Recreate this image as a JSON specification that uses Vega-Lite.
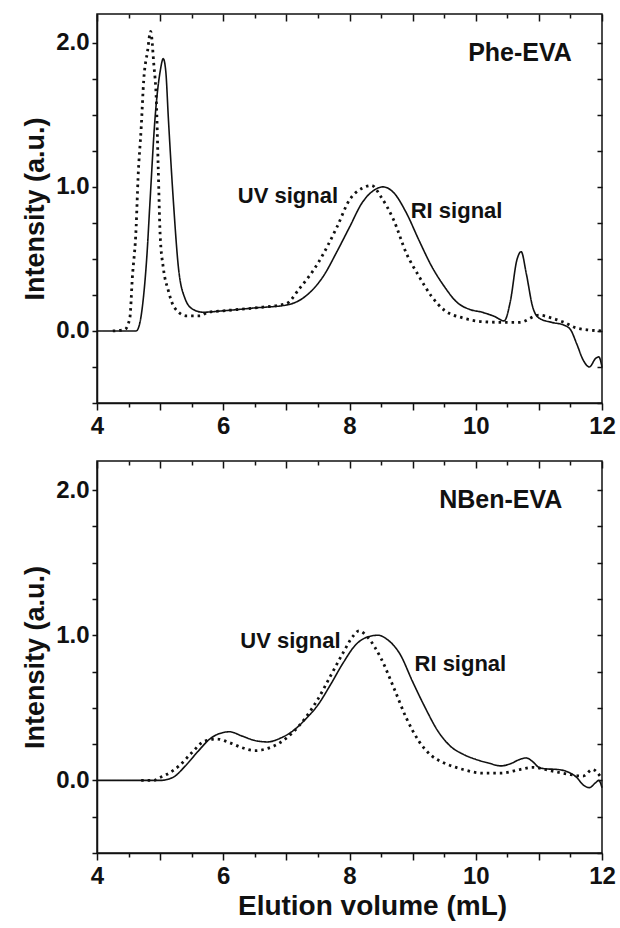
{
  "$schema": "https://vega.github.io/schema/vega-lite/v6.json",
  "padding": {"left": 20, "top": 12, "right": 12, "bottom": 4},
  "background": "white",
  "config": {
    "font": "Liberation Sans",
    "view": {"stroke": "#111", "strokeWidth": 1.5},
    "axis": {
      "grid": false,
      "domainColor": "#111",
      "domainWidth": 1.5,
      "tickColor": "#111",
      "tickWidth": 1.5,
      "labelFont": "Liberation Sans",
      "labelFontWeight": "bold",
      "labelFontSize": 24,
      "labelColor": "#111",
      "titleFont": "Liberation Sans",
      "titleFontWeight": "bold",
      "titleFontSize": 27,
      "titleColor": "#111"
    },
    "text": {"font": "Liberation Sans", "fontWeight": "bold", "color": "#111"}
  },
  "datasets": {
    "phe": [
      {"volume": 4.0, "intensity": 0, "signal": "RI signal"},
      {"volume": 4.3, "intensity": 0, "signal": "RI signal"},
      {"volume": 4.62, "intensity": 0, "signal": "RI signal"},
      {"volume": 4.67, "intensity": 0.04, "signal": "RI signal"},
      {"volume": 4.73, "intensity": 0.21, "signal": "RI signal"},
      {"volume": 4.79, "intensity": 0.52, "signal": "RI signal"},
      {"volume": 4.84, "intensity": 0.9, "signal": "RI signal"},
      {"volume": 4.92, "intensity": 1.48, "signal": "RI signal"},
      {"volume": 5.0, "intensity": 1.8, "signal": "RI signal"},
      {"volume": 5.05, "intensity": 1.89, "signal": "RI signal"},
      {"volume": 5.09, "intensity": 1.8, "signal": "RI signal"},
      {"volume": 5.13, "intensity": 1.48, "signal": "RI signal"},
      {"volume": 5.21, "intensity": 0.9, "signal": "RI signal"},
      {"volume": 5.29, "intensity": 0.44, "signal": "RI signal"},
      {"volume": 5.39, "intensity": 0.23, "signal": "RI signal"},
      {"volume": 5.52, "intensity": 0.15, "signal": "RI signal"},
      {"volume": 5.68, "intensity": 0.13, "signal": "RI signal"},
      {"volume": 6.0, "intensity": 0.14, "signal": "RI signal"},
      {"volume": 6.5, "intensity": 0.16, "signal": "RI signal"},
      {"volume": 7.0, "intensity": 0.18, "signal": "RI signal"},
      {"volume": 7.3, "intensity": 0.24, "signal": "RI signal"},
      {"volume": 7.6, "intensity": 0.39, "signal": "RI signal"},
      {"volume": 7.8, "intensity": 0.55, "signal": "RI signal"},
      {"volume": 8.0, "intensity": 0.72, "signal": "RI signal"},
      {"volume": 8.2, "intensity": 0.89, "signal": "RI signal"},
      {"volume": 8.4, "intensity": 0.98, "signal": "RI signal"},
      {"volume": 8.53, "intensity": 1.0, "signal": "RI signal"},
      {"volume": 8.7, "intensity": 0.96, "signal": "RI signal"},
      {"volume": 8.9, "intensity": 0.82, "signal": "RI signal"},
      {"volume": 9.1, "intensity": 0.63, "signal": "RI signal"},
      {"volume": 9.3, "intensity": 0.45, "signal": "RI signal"},
      {"volume": 9.5, "intensity": 0.31, "signal": "RI signal"},
      {"volume": 9.7, "intensity": 0.2, "signal": "RI signal"},
      {"volume": 9.9, "intensity": 0.15, "signal": "RI signal"},
      {"volume": 10.1, "intensity": 0.13, "signal": "RI signal"},
      {"volume": 10.3, "intensity": 0.1, "signal": "RI signal"},
      {"volume": 10.45, "intensity": 0.07, "signal": "RI signal"},
      {"volume": 10.55, "intensity": 0.21, "signal": "RI signal"},
      {"volume": 10.65, "intensity": 0.49, "signal": "RI signal"},
      {"volume": 10.72, "intensity": 0.55, "signal": "RI signal"},
      {"volume": 10.8, "intensity": 0.4, "signal": "RI signal"},
      {"volume": 10.9, "intensity": 0.17, "signal": "RI signal"},
      {"volume": 11.0, "intensity": 0.09, "signal": "RI signal"},
      {"volume": 11.2, "intensity": 0.06, "signal": "RI signal"},
      {"volume": 11.4, "intensity": 0.04, "signal": "RI signal"},
      {"volume": 11.5, "intensity": 0.01, "signal": "RI signal"},
      {"volume": 11.6, "intensity": -0.09, "signal": "RI signal"},
      {"volume": 11.7, "intensity": -0.2, "signal": "RI signal"},
      {"volume": 11.8, "intensity": -0.25, "signal": "RI signal"},
      {"volume": 11.9, "intensity": -0.19, "signal": "RI signal"},
      {"volume": 11.95, "intensity": -0.18, "signal": "RI signal"},
      {"volume": 12.0, "intensity": -0.25, "signal": "RI signal"},
      {"volume": 4.25, "intensity": 0, "signal": "UV signal"},
      {"volume": 4.44, "intensity": 0.01, "signal": "UV signal"},
      {"volume": 4.52, "intensity": 0.09, "signal": "UV signal"},
      {"volume": 4.56, "intensity": 0.37, "signal": "UV signal"},
      {"volume": 4.62, "intensity": 0.72, "signal": "UV signal"},
      {"volume": 4.65, "intensity": 1.06, "signal": "UV signal"},
      {"volume": 4.7, "intensity": 1.41, "signal": "UV signal"},
      {"volume": 4.74, "intensity": 1.74, "signal": "UV signal"},
      {"volume": 4.8, "intensity": 1.94, "signal": "UV signal"},
      {"volume": 4.85, "intensity": 2.08, "signal": "UV signal"},
      {"volume": 4.9, "intensity": 1.85, "signal": "UV signal"},
      {"volume": 4.94, "intensity": 1.6, "signal": "UV signal"},
      {"volume": 4.97, "intensity": 1.13, "signal": "UV signal"},
      {"volume": 5.0, "intensity": 0.67, "signal": "UV signal"},
      {"volume": 5.05, "intensity": 0.44, "signal": "UV signal"},
      {"volume": 5.13, "intensity": 0.28, "signal": "UV signal"},
      {"volume": 5.23, "intensity": 0.16, "signal": "UV signal"},
      {"volume": 5.42, "intensity": 0.105, "signal": "UV signal"},
      {"volume": 5.63, "intensity": 0.105, "signal": "UV signal"},
      {"volume": 5.76, "intensity": 0.13, "signal": "UV signal"},
      {"volume": 6.0, "intensity": 0.14, "signal": "UV signal"},
      {"volume": 6.5, "intensity": 0.16, "signal": "UV signal"},
      {"volume": 7.0, "intensity": 0.19, "signal": "UV signal"},
      {"volume": 7.2, "intensity": 0.29, "signal": "UV signal"},
      {"volume": 7.5, "intensity": 0.47, "signal": "UV signal"},
      {"volume": 7.8, "intensity": 0.72, "signal": "UV signal"},
      {"volume": 8.0, "intensity": 0.91, "signal": "UV signal"},
      {"volume": 8.2, "intensity": 0.99, "signal": "UV signal"},
      {"volume": 8.35, "intensity": 1.01, "signal": "UV signal"},
      {"volume": 8.5, "intensity": 0.93, "signal": "UV signal"},
      {"volume": 8.7, "intensity": 0.77, "signal": "UV signal"},
      {"volume": 8.9, "intensity": 0.54, "signal": "UV signal"},
      {"volume": 9.1, "intensity": 0.38, "signal": "UV signal"},
      {"volume": 9.3, "intensity": 0.24, "signal": "UV signal"},
      {"volume": 9.5, "intensity": 0.145, "signal": "UV signal"},
      {"volume": 9.8, "intensity": 0.09, "signal": "UV signal"},
      {"volume": 10.1, "intensity": 0.065, "signal": "UV signal"},
      {"volume": 10.4, "intensity": 0.06, "signal": "UV signal"},
      {"volume": 10.7, "intensity": 0.06, "signal": "UV signal"},
      {"volume": 11.0, "intensity": 0.11, "signal": "UV signal"},
      {"volume": 11.2, "intensity": 0.09, "signal": "UV signal"},
      {"volume": 11.4, "intensity": 0.06, "signal": "UV signal"},
      {"volume": 11.6, "intensity": 0.02, "signal": "UV signal"},
      {"volume": 12.0, "intensity": 0.0, "signal": "UV signal"}
    ],
    "nben": [
      {"volume": 4.0, "intensity": 0, "signal": "RI signal"},
      {"volume": 4.6, "intensity": 0, "signal": "RI signal"},
      {"volume": 5.0, "intensity": 0, "signal": "RI signal"},
      {"volume": 5.2, "intensity": 0.02, "signal": "RI signal"},
      {"volume": 5.4, "intensity": 0.1, "signal": "RI signal"},
      {"volume": 5.6, "intensity": 0.2, "signal": "RI signal"},
      {"volume": 5.8, "intensity": 0.29, "signal": "RI signal"},
      {"volume": 6.0, "intensity": 0.33, "signal": "RI signal"},
      {"volume": 6.1, "intensity": 0.335, "signal": "RI signal"},
      {"volume": 6.3, "intensity": 0.305, "signal": "RI signal"},
      {"volume": 6.5, "intensity": 0.275, "signal": "RI signal"},
      {"volume": 6.7, "intensity": 0.265, "signal": "RI signal"},
      {"volume": 6.9, "intensity": 0.29, "signal": "RI signal"},
      {"volume": 7.1, "intensity": 0.34, "signal": "RI signal"},
      {"volume": 7.3, "intensity": 0.42, "signal": "RI signal"},
      {"volume": 7.5, "intensity": 0.52, "signal": "RI signal"},
      {"volume": 7.7, "intensity": 0.66, "signal": "RI signal"},
      {"volume": 7.9, "intensity": 0.81, "signal": "RI signal"},
      {"volume": 8.1, "intensity": 0.935, "signal": "RI signal"},
      {"volume": 8.3, "intensity": 0.99, "signal": "RI signal"},
      {"volume": 8.45, "intensity": 1.0, "signal": "RI signal"},
      {"volume": 8.6, "intensity": 0.97, "signal": "RI signal"},
      {"volume": 8.8, "intensity": 0.87, "signal": "RI signal"},
      {"volume": 9.0, "intensity": 0.68, "signal": "RI signal"},
      {"volume": 9.2, "intensity": 0.5, "signal": "RI signal"},
      {"volume": 9.4, "intensity": 0.34, "signal": "RI signal"},
      {"volume": 9.6, "intensity": 0.235, "signal": "RI signal"},
      {"volume": 9.8, "intensity": 0.18, "signal": "RI signal"},
      {"volume": 10.0, "intensity": 0.145, "signal": "RI signal"},
      {"volume": 10.2, "intensity": 0.12, "signal": "RI signal"},
      {"volume": 10.4, "intensity": 0.1, "signal": "RI signal"},
      {"volume": 10.55, "intensity": 0.115, "signal": "RI signal"},
      {"volume": 10.7, "intensity": 0.145, "signal": "RI signal"},
      {"volume": 10.8, "intensity": 0.155, "signal": "RI signal"},
      {"volume": 10.9, "intensity": 0.13, "signal": "RI signal"},
      {"volume": 11.0, "intensity": 0.09, "signal": "RI signal"},
      {"volume": 11.1, "intensity": 0.08, "signal": "RI signal"},
      {"volume": 11.3, "intensity": 0.075, "signal": "RI signal"},
      {"volume": 11.45, "intensity": 0.06, "signal": "RI signal"},
      {"volume": 11.6, "intensity": 0.02, "signal": "RI signal"},
      {"volume": 11.7, "intensity": -0.03, "signal": "RI signal"},
      {"volume": 11.8, "intensity": -0.05, "signal": "RI signal"},
      {"volume": 11.9, "intensity": -0.015, "signal": "RI signal"},
      {"volume": 11.95, "intensity": 0.0, "signal": "RI signal"},
      {"volume": 12.0, "intensity": -0.05, "signal": "RI signal"},
      {"volume": 4.7, "intensity": 0, "signal": "UV signal"},
      {"volume": 4.9, "intensity": 0, "signal": "UV signal"},
      {"volume": 5.0, "intensity": 0.02, "signal": "UV signal"},
      {"volume": 5.1, "intensity": 0.04, "signal": "UV signal"},
      {"volume": 5.3, "intensity": 0.1, "signal": "UV signal"},
      {"volume": 5.5, "intensity": 0.19, "signal": "UV signal"},
      {"volume": 5.7, "intensity": 0.27, "signal": "UV signal"},
      {"volume": 5.9, "intensity": 0.285, "signal": "UV signal"},
      {"volume": 6.1, "intensity": 0.26, "signal": "UV signal"},
      {"volume": 6.3, "intensity": 0.225, "signal": "UV signal"},
      {"volume": 6.5, "intensity": 0.205, "signal": "UV signal"},
      {"volume": 6.7, "intensity": 0.22, "signal": "UV signal"},
      {"volume": 6.9, "intensity": 0.26, "signal": "UV signal"},
      {"volume": 7.1, "intensity": 0.33, "signal": "UV signal"},
      {"volume": 7.3, "intensity": 0.43, "signal": "UV signal"},
      {"volume": 7.5, "intensity": 0.56, "signal": "UV signal"},
      {"volume": 7.7, "intensity": 0.72, "signal": "UV signal"},
      {"volume": 7.9, "intensity": 0.88, "signal": "UV signal"},
      {"volume": 8.05, "intensity": 0.99, "signal": "UV signal"},
      {"volume": 8.15, "intensity": 1.03, "signal": "UV signal"},
      {"volume": 8.3, "intensity": 0.98, "signal": "UV signal"},
      {"volume": 8.5, "intensity": 0.84, "signal": "UV signal"},
      {"volume": 8.7, "intensity": 0.64, "signal": "UV signal"},
      {"volume": 8.9, "intensity": 0.43, "signal": "UV signal"},
      {"volume": 9.1, "intensity": 0.27, "signal": "UV signal"},
      {"volume": 9.3, "intensity": 0.17, "signal": "UV signal"},
      {"volume": 9.5, "intensity": 0.12, "signal": "UV signal"},
      {"volume": 9.8, "intensity": 0.075, "signal": "UV signal"},
      {"volume": 10.1, "intensity": 0.05, "signal": "UV signal"},
      {"volume": 10.4, "intensity": 0.05, "signal": "UV signal"},
      {"volume": 10.7, "intensity": 0.075, "signal": "UV signal"},
      {"volume": 10.9, "intensity": 0.09, "signal": "UV signal"},
      {"volume": 11.2, "intensity": 0.065, "signal": "UV signal"},
      {"volume": 11.5, "intensity": 0.04, "signal": "UV signal"},
      {"volume": 11.7, "intensity": 0.03, "signal": "UV signal"},
      {"volume": 11.85, "intensity": 0.075, "signal": "UV signal"},
      {"volume": 12.0, "intensity": 0.01, "signal": "UV signal"}
    ],
    "notes": [
      {"panel": "Phe-EVA", "kind": "signal", "label": "UV signal", "volume": 6.23, "intensity": 0.94},
      {"panel": "Phe-EVA", "kind": "signal", "label": "RI signal", "volume": 8.97, "intensity": 0.83},
      {"panel": "Phe-EVA", "kind": "sample", "label": "Phe-EVA", "volume": 9.88, "intensity": 1.93},
      {"panel": "NBen-EVA", "kind": "signal", "label": "UV signal", "volume": 6.27, "intensity": 0.96},
      {"panel": "NBen-EVA", "kind": "signal", "label": "RI signal", "volume": 9.03, "intensity": 0.8},
      {"panel": "NBen-EVA", "kind": "sample", "label": "NBen-EVA", "volume": 9.42, "intensity": 1.93}
    ]
  },
  "spacing": 20,
  "vconcat": [
    {
      "width": 505,
      "height": 389,
      "layer": [
        {
          "data": {"name": "phe"},
          "mark": {"type": "line", "color": "#111", "interpolate": "monotone", "strokeCap": "butt"},
          "encoding": {
            "x": {
              "field": "volume", "type": "quantitative",
              "scale": {"domain": [4, 12], "nice": false, "zero": false},
              "axis": {
                "orient": "bottom", "title": null,
                "values": [4, 4.5, 5, 5.5, 6, 6.5, 7, 7.5, 8, 8.5, 9, 9.5, 10, 10.5, 11, 11.5, 12],
                "labelExpr": "datum.value % 2 === 0 ? format(datum.value, 'd') : ''",
                "tickSize": {"condition": {"test": "datum.value % 1 === 0", "value": 7}, "value": 4},
                "labelPadding": 4, "labelFlush": false, "labelOverlap": false
              }
            },
            "y": {
              "field": "intensity", "type": "quantitative",
              "scale": {"domain": [-0.5, 2.2], "nice": false, "zero": false},
              "axis": {
                "orient": "left", "title": "Intensity (a.u.)",
                "values": [-0.5, -0.25, 0, 0.25, 0.5, 0.75, 1, 1.25, 1.5, 1.75, 2],
                "labelExpr": "datum.value % 1 === 0 ? format(datum.value, '.1f') : ''",
                "tickSize": 5, "labelPadding": 3, "titlePadding": 6, "labelOverlap": false
              }
            },
            "strokeDash": {
              "field": "signal", "type": "nominal",
              "scale": {"domain": ["RI signal", "UV signal"], "range": [[1, 0], [2.5, 4]]},
              "legend": null
            },
            "strokeWidth": {
              "field": "signal", "type": "nominal",
              "scale": {"domain": ["RI signal", "UV signal"], "range": [1.6, 2.8]},
              "legend": null
            }
          }
        },
        {
          "data": {"name": "phe"},
          "mark": {"type": "point", "opacity": 0},
          "encoding": {
            "x": {
              "field": "volume", "type": "quantitative",
              "axis": {
                "orient": "top", "title": null, "labels": false, "domain": false,
                "values": [4, 4.5, 5, 5.5, 6, 6.5, 7, 7.5, 8, 8.5, 9, 9.5, 10, 10.5, 11, 11.5, 12],
                "tickSize": {"condition": {"test": "datum.value % 1 === 0", "value": -7}, "value": -4}
              }
            },
            "y": {
              "field": "intensity", "type": "quantitative",
              "axis": {
                "orient": "right", "title": null, "labels": false, "domain": false,
                "values": [-0.5, -0.25, 0, 0.25, 0.5, 0.75, 1, 1.25, 1.5, 1.75, 2],
                "tickSize": -5
              }
            }
          }
        },
        {
          "data": {"name": "notes"},
          "transform": [{"filter": "datum.panel === 'Phe-EVA' && datum.kind === 'signal'"}],
          "mark": {"type": "text", "align": "left", "baseline": "middle", "fontSize": 22},
          "encoding": {
            "x": {"field": "volume", "type": "quantitative", "axis": null},
            "y": {"field": "intensity", "type": "quantitative", "axis": null},
            "text": {"field": "label"}
          }
        },
        {
          "data": {"name": "notes"},
          "transform": [{"filter": "datum.panel === 'Phe-EVA' && datum.kind === 'sample'"}],
          "mark": {"type": "text", "align": "left", "baseline": "middle", "fontSize": 25},
          "encoding": {
            "x": {"field": "volume", "type": "quantitative", "axis": null},
            "y": {"field": "intensity", "type": "quantitative", "axis": null},
            "text": {"field": "label"}
          }
        }
      ],
      "resolve": {"axis": {"x": "independent", "y": "independent"}}
    },
    {
      "width": 505,
      "height": 392,
      "layer": [
        {
          "data": {"name": "nben"},
          "mark": {"type": "line", "color": "#111", "interpolate": "monotone", "strokeCap": "butt"},
          "encoding": {
            "x": {
              "field": "volume", "type": "quantitative",
              "scale": {"domain": [4, 12], "nice": false, "zero": false},
              "axis": {
                "orient": "bottom", "title": "Elution volume (mL)",
                "values": [4, 4.5, 5, 5.5, 6, 6.5, 7, 7.5, 8, 8.5, 9, 9.5, 10, 10.5, 11, 11.5, 12],
                "labelExpr": "datum.value % 2 === 0 ? format(datum.value, 'd') : ''",
                "tickSize": {"condition": {"test": "datum.value % 1 === 0", "value": 7}, "value": 4},
                "labelPadding": 4, "titlePadding": 4, "titleFontSize": 28,
                "titleX": 275, "titleAlign": "center",
                "labelFlush": false, "labelOverlap": false
              }
            },
            "y": {
              "field": "intensity", "type": "quantitative",
              "scale": {"domain": [-0.5, 2.2], "nice": false, "zero": false},
              "axis": {
                "orient": "left", "title": "Intensity (a.u.)",
                "values": [-0.5, -0.25, 0, 0.25, 0.5, 0.75, 1, 1.25, 1.5, 1.75, 2],
                "labelExpr": "datum.value % 1 === 0 ? format(datum.value, '.1f') : ''",
                "tickSize": 5, "labelPadding": 3, "titlePadding": 6, "labelOverlap": false
              }
            },
            "strokeDash": {
              "field": "signal", "type": "nominal",
              "scale": {"domain": ["RI signal", "UV signal"], "range": [[1, 0], [2.5, 4]]},
              "legend": null
            },
            "strokeWidth": {
              "field": "signal", "type": "nominal",
              "scale": {"domain": ["RI signal", "UV signal"], "range": [1.6, 2.8]},
              "legend": null
            }
          }
        },
        {
          "data": {"name": "nben"},
          "mark": {"type": "point", "opacity": 0},
          "encoding": {
            "x": {
              "field": "volume", "type": "quantitative",
              "axis": {
                "orient": "top", "title": null, "labels": false, "domain": false,
                "values": [4, 4.5, 5, 5.5, 6, 6.5, 7, 7.5, 8, 8.5, 9, 9.5, 10, 10.5, 11, 11.5, 12],
                "tickSize": {"condition": {"test": "datum.value % 1 === 0", "value": -7}, "value": -4}
              }
            },
            "y": {
              "field": "intensity", "type": "quantitative",
              "axis": {
                "orient": "right", "title": null, "labels": false, "domain": false,
                "values": [-0.5, -0.25, 0, 0.25, 0.5, 0.75, 1, 1.25, 1.5, 1.75, 2],
                "tickSize": -5
              }
            }
          }
        },
        {
          "data": {"name": "notes"},
          "transform": [{"filter": "datum.panel === 'NBen-EVA' && datum.kind === 'signal'"}],
          "mark": {"type": "text", "align": "left", "baseline": "middle", "fontSize": 22},
          "encoding": {
            "x": {"field": "volume", "type": "quantitative", "axis": null},
            "y": {"field": "intensity", "type": "quantitative", "axis": null},
            "text": {"field": "label"}
          }
        },
        {
          "data": {"name": "notes"},
          "transform": [{"filter": "datum.panel === 'NBen-EVA' && datum.kind === 'sample'"}],
          "mark": {"type": "text", "align": "left", "baseline": "middle", "fontSize": 25},
          "encoding": {
            "x": {"field": "volume", "type": "quantitative", "axis": null},
            "y": {"field": "intensity", "type": "quantitative", "axis": null},
            "text": {"field": "label"}
          }
        }
      ],
      "resolve": {"axis": {"x": "independent", "y": "independent"}}
    }
  ]
}
